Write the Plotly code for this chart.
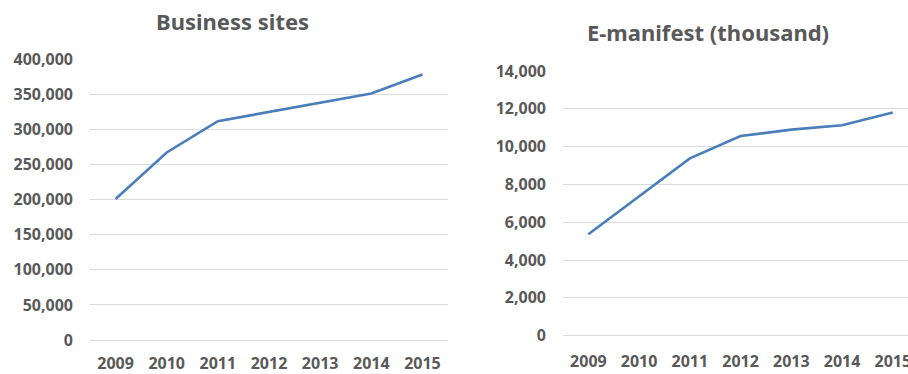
import plotly.graph_objects as go

years = ["2009", "2010", "2011", "2012", "2013", "2014", "2015"]
business_sites = [201000, 267500, 312000, 325000, 338000, 351500, 378500]
emanifest = [5370, 7360, 9380, 10560, 10900, 11130, 11800]

left_ticks = [0, 50000, 100000, 150000, 200000, 250000, 300000, 350000, 400000]
right_ticks = [0, 2000, 4000, 6000, 8000, 10000, 12000, 14000]

W, H = 908, 374
LINE = "#4a7ebb"
GRID = "#d9d9d9"
TXT = "#595959"
FONT = "Noto Sans"

fig = go.Figure()
fig.add_trace(go.Scatter(x=years, y=business_sites, mode="lines",
                         line=dict(color=LINE, width=2.6), xaxis="x", yaxis="y",
                         showlegend=False, hoverinfo="skip"))
fig.add_trace(go.Scatter(x=years, y=emanifest, mode="lines",
                         line=dict(color=LINE, width=2.6), xaxis="x2", yaxis="y2",
                         showlegend=False, hoverinfo="skip"))

tickfont = dict(family=FONT, size=16, color=TXT, weight="bold")

def fx(px):
    return px / W

def fy(py):
    return (H - py) / H

common_x = dict(type="category", showgrid=False, showline=False, ticks="",
                tickfont=tickfont, automargin=False, zeroline=False)
common_y = dict(showgrid=True, gridcolor=GRID, gridwidth=1,
                zeroline=True, zerolinecolor=GRID, zerolinewidth=1,
                showline=False, ticks="", tickfont=tickfont, automargin=False,
                ticklabelstandoff=16)

fig.update_layout(
    width=W, height=H,
    margin=dict(l=0, r=0, t=0, b=0, pad=0, autoexpand=False),
    paper_bgcolor="white", plot_bgcolor="white",
    xaxis=dict(domain=[fx(90), fx(448)], range=[-0.5, 6.5], anchor="y",
               ticklabelstandoff=12, **common_x),
    yaxis=dict(domain=[fy(340), fy(59.5)], range=[0, 400000],
               tickvals=left_ticks, ticktext=[f"{v:,}" for v in left_ticks],
               anchor="x", **common_y),
    xaxis2=dict(domain=[fx(563), 1.0], range=[-0.5, 6.30], anchor="y2",
                ticklabelstandoff=14, **common_x),
    yaxis2=dict(domain=[fy(335.7), fy(71)], range=[0, 14000],
                tickvals=right_ticks, ticktext=[f"{v:,}" for v in right_ticks],
                anchor="x2", **common_y),
    annotations=[
        dict(text="Business sites", x=fx(232), y=fy(21), xref="paper", yref="paper",
             xanchor="center", yanchor="middle", showarrow=False,
             font=dict(family=FONT, size=22, color=TXT, weight="bold")),
        dict(text="E-manifest (thousand)", x=fx(708), y=fy(32), xref="paper", yref="paper",
             xanchor="center", yanchor="middle", showarrow=False,
             font=dict(family=FONT, size=22, color=TXT, weight="bold")),
    ],
)

fig.write_html("out.html")
